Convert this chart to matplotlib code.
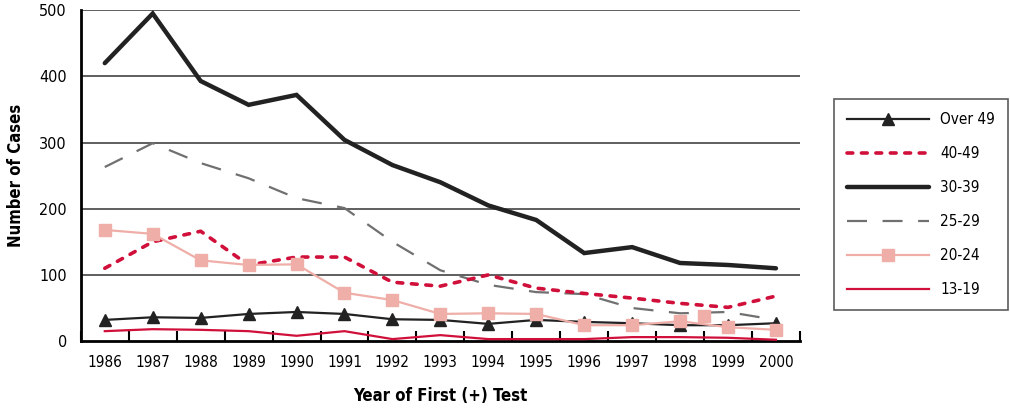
import matplotlib.pyplot as plt
from matplotlib.ticker import FixedLocator

plt.rcParams['font.family'] = ['DejaVu Sans']
plt.rcParams['font.stretch'] = 'condensed'

# Data.
years = list(range(1986, 2001))
over_49 = [32, 36, 35, 41, 44, 41, 33, 32, 26, 32, 29, 27, 24, 24, 27]
age_40_49 = [110, 150, 166, 115, 127, 127, 89, 83, 100, 80, 72, 65, 57, 51, 68]
age_30_39 = [420, 495, 393, 357, 372, 304, 266, 240, 205, 183, 133, 142, 118, 115, 110]
age_25_29 = [263, 299, 269, 246, 216, 201, 150, 107, 85, 74, 71, 50, 42, 44, 32]
age_20_24 = [168, 162, 122, 115, 116, 73, 62, 41, 42, 41, 24, 24, 30, 21, 17]
age_13_19 = [15, 18, 17, 15, 8, 15, 3, 9, 3, 3, 3, 6, 6, 5, 2]
# a lone 20-24 marker that sits between 1998 and 1999 in the original
stray_x = [1998.5]
stray_y = [38]

red = '#d0103a'
pink = '#efaea8'
dark = '#222222'
gray = '#707070'

fig = plt.figure(figsize=(10.1, 4.08), dpi=100)
ax = fig.add_axes([0.080, 0.164, 0.712, 0.811])

for v in [100, 200, 300, 400, 500]:
    ax.axhline(v, color='#333333', lw=1.1, zorder=1)

ax.plot(years, age_25_29, color=gray, lw=1.6, dashes=(9, 7), label='25-29', zorder=2)
ax.plot(years, age_30_39, color=dark, lw=3.2, solid_capstyle='round',
        solid_joinstyle='miter', label='30-39', zorder=3)
ax.plot(years, age_40_49, color=red, lw=2.6, dashes=(1.6, 2.4),
        dash_capstyle='round', label='40-49', zorder=3)
ax.plot(years, over_49, color=dark, lw=1.6, marker='^', markersize=8, label='Over 49', zorder=4)
ax.plot(years, age_20_24, color=pink, lw=1.6, marker='s', markersize=8.5, label='20-24', zorder=5)
ax.plot(stray_x, stray_y, color=pink, lw=0, marker='s', markersize=8.5, zorder=5)
ax.plot(years, age_13_19, color=red, lw=1.6, label='13-19', zorder=6)

ax.set_xlim(1985.5, 2000.5)
ax.set_ylim(0, 500)
ax.set_xticks(years)
ax.set_xticklabels([str(y) for y in years], fontsize=11)
ax.xaxis.set_minor_locator(FixedLocator([y + 0.5 for y in range(1985, 2001)]))
ax.tick_params(axis='x', which='major', length=0, pad=10)
ax.tick_params(axis='x', which='minor', direction='in', length=7, width=1.5, color='black')
ax.set_yticks([0, 100, 200, 300, 400, 500])
ax.tick_params(axis='y', length=0, labelsize=11.5, pad=10)

for side in ['top', 'right']:
    ax.spines[side].set_visible(False)
ax.spines['left'].set_linewidth(2)
ax.spines['bottom'].set_linewidth(2)

ax.set_xlabel('Year of First (+) Test', fontsize=12, fontweight='bold', labelpad=12)
ax.set_ylabel('Number of Cases', fontsize=12, fontweight='bold', labelpad=10)

handles, labels = ax.get_legend_handles_labels()
order = ['Over 49', '40-49', '30-39', '25-29', '20-24', '13-19']
hmap = dict(zip(labels, handles))
leg = fig.legend([hmap[k] for k in order], order, loc='upper left',
                 bbox_to_anchor=(834 / 1010, 1 - 99 / 408), fontsize=11,
                 frameon=True, fancybox=False, edgecolor='#333333',
                 handlelength=5.4, handletextpad=0.7, labelspacing=1.25,
                 borderpad=0.85, borderaxespad=0)
leg.get_frame().set_linewidth(1.2)

fig.savefig('out.png', dpi=100)
